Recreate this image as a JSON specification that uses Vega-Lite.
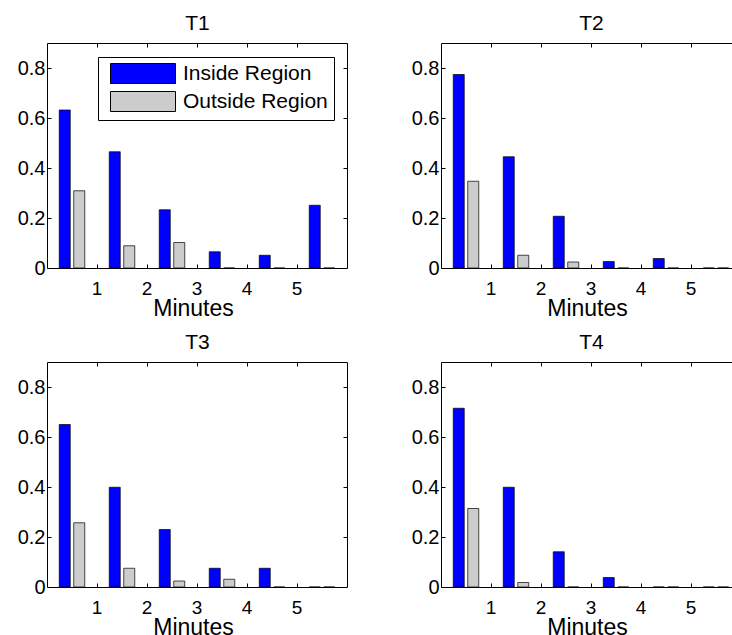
{
  "$schema": "https://vega.github.io/schema/vega-lite/v6.json",
  "background": "white",
  "padding": {"left": 16, "top": -13, "right": 0, "bottom": 0},
  "data": {"values": [
    {"panel": "T1", "start": 0, "region": "Inside Region", "value": 0.632},
    {"panel": "T1", "start": 1, "region": "Inside Region", "value": 0.465},
    {"panel": "T1", "start": 2, "region": "Inside Region", "value": 0.233},
    {"panel": "T1", "start": 3, "region": "Inside Region", "value": 0.065},
    {"panel": "T1", "start": 4, "region": "Inside Region", "value": 0.051},
    {"panel": "T1", "start": 5, "region": "Inside Region", "value": 0.251},
    {"panel": "T1", "start": 0, "region": "Outside Region", "value": 0.309},
    {"panel": "T1", "start": 1, "region": "Outside Region", "value": 0.089},
    {"panel": "T1", "start": 2, "region": "Outside Region", "value": 0.102},
    {"panel": "T1", "start": 3, "region": "Outside Region", "value": 0},
    {"panel": "T1", "start": 4, "region": "Outside Region", "value": 0},
    {"panel": "T1", "start": 5, "region": "Outside Region", "value": 0},
    {"panel": "T2", "start": 0, "region": "Inside Region", "value": 0.774},
    {"panel": "T2", "start": 1, "region": "Inside Region", "value": 0.445},
    {"panel": "T2", "start": 2, "region": "Inside Region", "value": 0.207},
    {"panel": "T2", "start": 3, "region": "Inside Region", "value": 0.026},
    {"panel": "T2", "start": 4, "region": "Inside Region", "value": 0.038},
    {"panel": "T2", "start": 5, "region": "Inside Region", "value": 0},
    {"panel": "T2", "start": 0, "region": "Outside Region", "value": 0.347},
    {"panel": "T2", "start": 1, "region": "Outside Region", "value": 0.051},
    {"panel": "T2", "start": 2, "region": "Outside Region", "value": 0.024},
    {"panel": "T2", "start": 3, "region": "Outside Region", "value": 0},
    {"panel": "T2", "start": 4, "region": "Outside Region", "value": 0},
    {"panel": "T2", "start": 5, "region": "Outside Region", "value": 0},
    {"panel": "T3", "start": 0, "region": "Inside Region", "value": 0.650},
    {"panel": "T3", "start": 1, "region": "Inside Region", "value": 0.399},
    {"panel": "T3", "start": 2, "region": "Inside Region", "value": 0.230},
    {"panel": "T3", "start": 3, "region": "Inside Region", "value": 0.075},
    {"panel": "T3", "start": 4, "region": "Inside Region", "value": 0.075},
    {"panel": "T3", "start": 5, "region": "Inside Region", "value": 0},
    {"panel": "T3", "start": 0, "region": "Outside Region", "value": 0.257},
    {"panel": "T3", "start": 1, "region": "Outside Region", "value": 0.075},
    {"panel": "T3", "start": 2, "region": "Outside Region", "value": 0.024},
    {"panel": "T3", "start": 3, "region": "Outside Region", "value": 0.031},
    {"panel": "T3", "start": 4, "region": "Outside Region", "value": 0},
    {"panel": "T3", "start": 5, "region": "Outside Region", "value": 0},
    {"panel": "T4", "start": 0, "region": "Inside Region", "value": 0.715},
    {"panel": "T4", "start": 1, "region": "Inside Region", "value": 0.399},
    {"panel": "T4", "start": 2, "region": "Inside Region", "value": 0.141},
    {"panel": "T4", "start": 3, "region": "Inside Region", "value": 0.038},
    {"panel": "T4", "start": 4, "region": "Inside Region", "value": 0},
    {"panel": "T4", "start": 5, "region": "Inside Region", "value": 0},
    {"panel": "T4", "start": 0, "region": "Outside Region", "value": 0.314},
    {"panel": "T4", "start": 1, "region": "Outside Region", "value": 0.018},
    {"panel": "T4", "start": 2, "region": "Outside Region", "value": 0},
    {"panel": "T4", "start": 3, "region": "Outside Region", "value": 0},
    {"panel": "T4", "start": 4, "region": "Outside Region", "value": 0},
    {"panel": "T4", "start": 5, "region": "Outside Region", "value": 0}
  ]},
  "columns": 2,
  "spacing": 94,
  "bounds": "flush",
  "resolve": {"legend": {"color": "independent"}},
  "concat": [
    {
      "width": 300, "height": 225,
      "transform": [{"filter": "datum.panel === 'T1'"}],
      "layer": [
        {"mark": {"type": "bar", "stroke": "black", "strokeWidth": 0.7},
         "encoding": {
           "x": {"field": "start", "type": "ordinal", "scale": {"paddingInner": 0, "paddingOuter": 0},
                 "axis": {"orient": "bottom", "values": [1, 2, 3, 4, 5], "bandPosition": 0, "labelOffset": -25, "labelAngle": 0, "tickSize": -4, "labelPadding": 15, "title": "Minutes", "titlePadding": -1, "titleX": 146}},
           "xOffset": {"field": "region", "type": "nominal", "scale": {"domain": ["Inside Region", "Outside Region"], "paddingInner": 0.24, "paddingOuter": 0.844}},
           "y": {"field": "value", "type": "quantitative", "scale": {"domain": [0, 0.9], "nice": false},
                 "axis": {"orient": "left", "values": [0, 0.2, 0.4, 0.6, 0.8], "format": "~g", "tickSize": -4, "labelPadding": 6, "title": null}},
           "color": {"field": "region", "type": "nominal",
                     "scale": {"domain": ["Inside Region", "Outside Region"], "range": ["#0000ff", "#cccccc"]},
                     "legend": {"orient": "none", "legendX": 51, "legendY": 14, "title": null,
                                "symbolType": "M -0.4 -1 H 6.1 V 1 H -0.4 Z", "symbolSize": 400,
                                "symbolStrokeColor": "black", "symbolStrokeWidth": 1, "symbolOpacity": 1,
                                "labelFont": "Liberation Sans", "labelFontSize": 21, "labelColor": "black",
                                "labelOffset": 58, "rowPadding": 3, "padding": 6, "labelLimit": 300,
                                "strokeColor": "black", "fillColor": "white"}}
         }},
        {"mark": {"type": "bar", "opacity": 0},
         "encoding": {
           "x": {"field": "start", "type": "ordinal",
                 "axis": {"orient": "top", "values": [1, 2, 3, 4, 5], "bandPosition": 0, "labels": false, "tickSize": -4, "title": "T1", "titleFontSize": 21, "titlePadding": 14, "titleBaseline": "alphabetic", "minExtent": 0, "maxExtent": 0}},
           "y": {"field": "value", "type": "quantitative",
                 "axis": {"orient": "right", "values": [0.2, 0.4, 0.6, 0.8], "labels": false, "tickSize": -4, "title": null, "minExtent": 0, "maxExtent": 0}}
         }}
      ],
      "resolve": {"axis": {"x": "independent", "y": "independent"}}
    },
    {
      "width": 300, "height": 225,
      "transform": [{"filter": "datum.panel === 'T2'"}],
      "layer": [
        {"mark": {"type": "bar", "stroke": "black", "strokeWidth": 0.7},
         "encoding": {
           "x": {"field": "start", "type": "ordinal", "scale": {"paddingInner": 0, "paddingOuter": 0},
                 "axis": {"orient": "bottom", "values": [1, 2, 3, 4, 5], "bandPosition": 0, "labelOffset": -25, "labelAngle": 0, "tickSize": -4, "labelPadding": 15, "title": "Minutes", "titlePadding": -1, "titleX": 146}},
           "xOffset": {"field": "region", "type": "nominal", "scale": {"domain": ["Inside Region", "Outside Region"], "paddingInner": 0.24, "paddingOuter": 0.844}},
           "y": {"field": "value", "type": "quantitative", "scale": {"domain": [0, 0.9], "nice": false},
                 "axis": {"orient": "left", "values": [0, 0.2, 0.4, 0.6, 0.8], "format": "~g", "tickSize": -4, "labelPadding": 6, "title": null}},
           "color": {"field": "region", "type": "nominal",
                     "scale": {"domain": ["Inside Region", "Outside Region"], "range": ["#0000ff", "#cccccc"]},
                     "legend": null}
         }},
        {"mark": {"type": "bar", "opacity": 0},
         "encoding": {
           "x": {"field": "start", "type": "ordinal",
                 "axis": {"orient": "top", "values": [1, 2, 3, 4, 5], "bandPosition": 0, "labels": false, "tickSize": -4, "title": "T2", "titleFontSize": 21, "titlePadding": 14, "titleBaseline": "alphabetic", "minExtent": 0, "maxExtent": 0}},
           "y": {"field": "value", "type": "quantitative",
                 "axis": {"orient": "right", "values": [0.2, 0.4, 0.6, 0.8], "labels": false, "tickSize": -4, "title": null, "minExtent": 0, "maxExtent": 0}}
         }}
      ],
      "resolve": {"axis": {"x": "independent", "y": "independent"}}
    },
    {
      "width": 300, "height": 225,
      "transform": [{"filter": "datum.panel === 'T3'"}],
      "layer": [
        {"mark": {"type": "bar", "stroke": "black", "strokeWidth": 0.7},
         "encoding": {
           "x": {"field": "start", "type": "ordinal", "scale": {"paddingInner": 0, "paddingOuter": 0},
                 "axis": {"orient": "bottom", "values": [1, 2, 3, 4, 5], "bandPosition": 0, "labelOffset": -25, "labelAngle": 0, "tickSize": -4, "labelPadding": 15, "title": "Minutes", "titlePadding": -1, "titleX": 146}},
           "xOffset": {"field": "region", "type": "nominal", "scale": {"domain": ["Inside Region", "Outside Region"], "paddingInner": 0.24, "paddingOuter": 0.844}},
           "y": {"field": "value", "type": "quantitative", "scale": {"domain": [0, 0.9], "nice": false},
                 "axis": {"orient": "left", "values": [0, 0.2, 0.4, 0.6, 0.8], "format": "~g", "tickSize": -4, "labelPadding": 6, "title": null}},
           "color": {"field": "region", "type": "nominal",
                     "scale": {"domain": ["Inside Region", "Outside Region"], "range": ["#0000ff", "#cccccc"]},
                     "legend": null}
         }},
        {"mark": {"type": "bar", "opacity": 0},
         "encoding": {
           "x": {"field": "start", "type": "ordinal",
                 "axis": {"orient": "top", "values": [1, 2, 3, 4, 5], "bandPosition": 0, "labels": false, "tickSize": -4, "title": "T3", "titleFontSize": 21, "titlePadding": 14, "titleBaseline": "alphabetic", "minExtent": 0, "maxExtent": 0}},
           "y": {"field": "value", "type": "quantitative",
                 "axis": {"orient": "right", "values": [0.2, 0.4, 0.6, 0.8], "labels": false, "tickSize": -4, "title": null, "minExtent": 0, "maxExtent": 0}}
         }}
      ],
      "resolve": {"axis": {"x": "independent", "y": "independent"}}
    },
    {
      "width": 300, "height": 225,
      "transform": [{"filter": "datum.panel === 'T4'"}],
      "layer": [
        {"mark": {"type": "bar", "stroke": "black", "strokeWidth": 0.7},
         "encoding": {
           "x": {"field": "start", "type": "ordinal", "scale": {"paddingInner": 0, "paddingOuter": 0},
                 "axis": {"orient": "bottom", "values": [1, 2, 3, 4, 5], "bandPosition": 0, "labelOffset": -25, "labelAngle": 0, "tickSize": -4, "labelPadding": 15, "title": "Minutes", "titlePadding": -1, "titleX": 146}},
           "xOffset": {"field": "region", "type": "nominal", "scale": {"domain": ["Inside Region", "Outside Region"], "paddingInner": 0.24, "paddingOuter": 0.844}},
           "y": {"field": "value", "type": "quantitative", "scale": {"domain": [0, 0.9], "nice": false},
                 "axis": {"orient": "left", "values": [0, 0.2, 0.4, 0.6, 0.8], "format": "~g", "tickSize": -4, "labelPadding": 6, "title": null}},
           "color": {"field": "region", "type": "nominal",
                     "scale": {"domain": ["Inside Region", "Outside Region"], "range": ["#0000ff", "#cccccc"]},
                     "legend": null}
         }},
        {"mark": {"type": "bar", "opacity": 0},
         "encoding": {
           "x": {"field": "start", "type": "ordinal",
                 "axis": {"orient": "top", "values": [1, 2, 3, 4, 5], "bandPosition": 0, "labels": false, "tickSize": -4, "title": "T4", "titleFontSize": 21, "titlePadding": 14, "titleBaseline": "alphabetic", "minExtent": 0, "maxExtent": 0}},
           "y": {"field": "value", "type": "quantitative",
                 "axis": {"orient": "right", "values": [0.2, 0.4, 0.6, 0.8], "labels": false, "tickSize": -4, "title": null, "minExtent": 0, "maxExtent": 0}}
         }}
      ],
      "resolve": {"axis": {"x": "independent", "y": "independent"}}
    }
  ],
  "config": {
    "font": "Liberation Sans",
    "view": {"stroke": "black", "strokeWidth": 1},
    "axis": {"domain": false, "grid": false, "tickColor": "black", "labelColor": "black", "labelFontSize": 19,
             "titleFontSize": 23, "titleFontWeight": "normal", "titleColor": "black",
             "labelFont": "Liberation Sans", "titleFont": "Liberation Sans"},
    "axisLeft": {"labelFontSize": 20}
  }
}
